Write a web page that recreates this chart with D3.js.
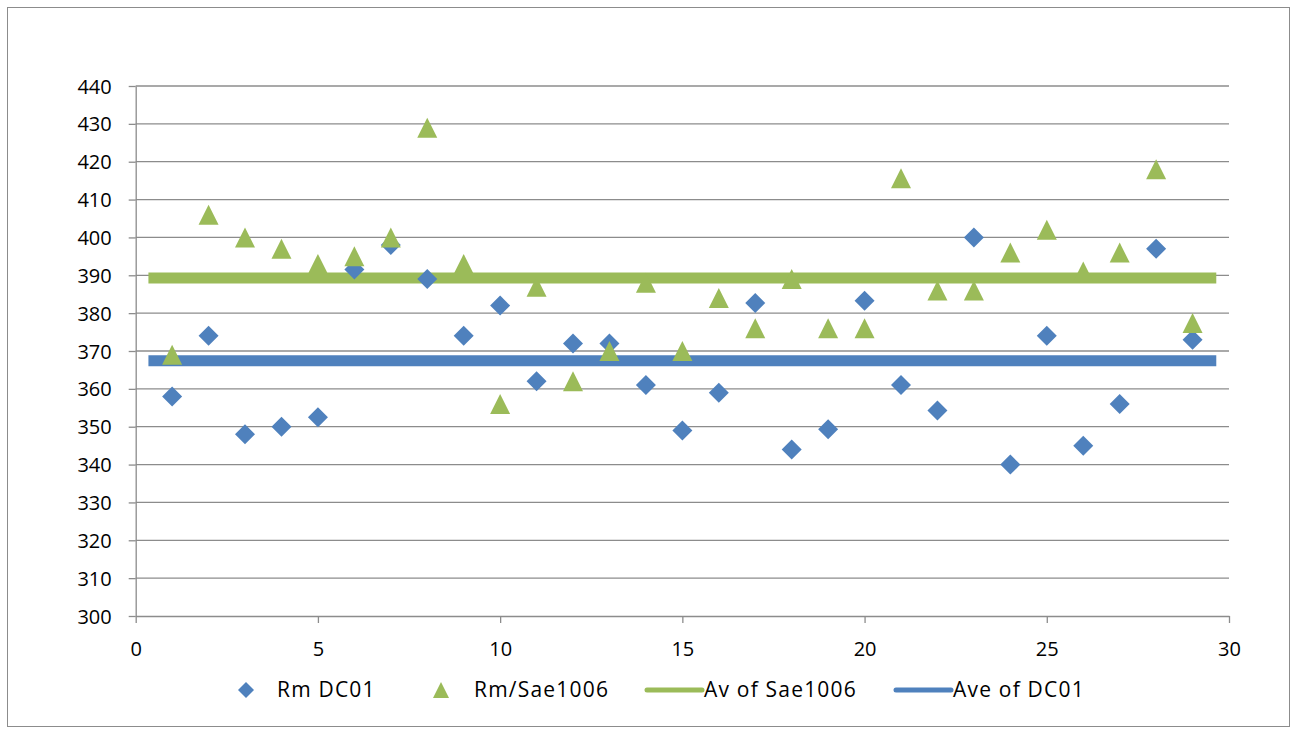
<!DOCTYPE html>
<html>
<head>
<meta charset="utf-8">
<script src="https://cdn.jsdelivr.net/npm/d3@7"></script>
<style>
  html, body { margin: 0; padding: 0; background: #fff; }
  svg { display: block; }
  text { font-family: "Open Sans", "Liberation Sans", sans-serif; fill: #000; }
  .legend text { font-size: 21px; letter-spacing: 1.2px; }
</style>
</head>
<body>
<svg id="chart" width="1297" height="733"></svg>
<script>
// Sample index (1..29)
const sampleIndex = [1,2,3,4,5,6,7,8,9,10,11,12,13,14,15,16,17,18,19,20,21,22,23,24,25,26,27,28,29];

// Rm DC01 measurements
const rmDC01 = [358,374,348,350,352.5,391.5,398,389,374,382,362,372,372,361,349,359,382.7,344,349.3,383.3,361,354.3,400,340,374,345,356,397,373];

// Rm/Sae1006 measurements
const rmSae1006 = [369,406,400,397,393,395,400,429,393,356,387,362,370,388,370,384,376,389,376,376,415.6,386,386,396,402,391,396,418,377.4];

// Averages drawn as horizontal bands across the sample range
const avgSae1006 = 389.3;
const avgDC01 = 367.4;
const avgSpan = [0.5, 29.5];

// Axis ticks
const xTicks = [0,5,10,15,20,25,30];
const yTicks = [300,310,320,330,340,350,360,370,380,390,400,410,420,430,440];

const seriesNames = ["Rm DC01", "Rm/Sae1006", "Av of Sae1006", "Ave of DC01"];

const BLUE = "#4F81BD", GREEN = "#9BBB59", GRID = "#8c8c8c";
const AXIS_FONT = "20px";

const svg = d3.select("#chart");

// Outer chart frame
svg.append("rect")
  .attr("x", 7.5).attr("y", 7.5)
  .attr("width", 1282).attr("height", 719)
  .attr("fill", "#fff").attr("stroke", "#8c8c8c").attr("stroke-width", 1);

const x = d3.scaleLinear().domain([0, 30]).range([135.7, 1229]);
const y = d3.scaleLinear().domain([300, 440]).range([616, 86]);

// Horizontal gridlines
svg.append("g")
  .selectAll("line")
  .data(yTicks.filter(v => v > 300))
  .join("line")
  .attr("x1", x(0)).attr("x2", x(30))
  .attr("y1", d => y(d)).attr("y2", d => y(d))
  .attr("stroke", GRID).attr("stroke-width", 1.3);

// Y axis
const yAxis = svg.append("g")
  .attr("transform", `translate(${x(0)},0)`)
  .call(d3.axisLeft(y).tickValues(yTicks).tickSize(7).tickPadding(17).tickSizeOuter(0));
yAxis.select(".domain").attr("stroke", GRID).attr("stroke-width", 1.3);
yAxis.selectAll(".tick line").attr("stroke", GRID).attr("stroke-width", 1.3);
yAxis.selectAll(".tick text").style("font-size", AXIS_FONT).attr("dy", "0.35em");

// X axis
const xAxis = svg.append("g")
  .attr("transform", `translate(0,${y(300)})`)
  .call(d3.axisBottom(x).tickValues(xTicks).tickSize(7).tickPadding(19).tickSizeOuter(0));
xAxis.select(".domain").attr("stroke", GRID).attr("stroke-width", 1.3);
xAxis.selectAll(".tick line").attr("stroke", GRID).attr("stroke-width", 1.3);
xAxis.selectAll(".tick text").style("font-size", AXIS_FONT);

// Average bands
const avgLine = d3.line().x(d => x(d[0])).y(d => y(d[1]));
svg.append("path")
  .attr("d", avgLine(avgSpan.map(s => [s, avgSae1006])))
  .attr("fill", "none").attr("stroke", GREEN).attr("stroke-width", 11)
  .attr("stroke-linecap", "square");
svg.append("path")
  .attr("d", avgLine(avgSpan.map(s => [s, avgDC01])))
  .attr("fill", "none").attr("stroke", BLUE).attr("stroke-width", 11)
  .attr("stroke-linecap", "square");

// Marker shapes: square diamond and isosceles triangle, sized by width
const diamondType = {
  draw(ctx, size) {
    const r = Math.sqrt(size) / 2;
    ctx.moveTo(0, -r); ctx.lineTo(r, 0); ctx.lineTo(0, r); ctx.lineTo(-r, 0); ctx.closePath();
  }
};
const triangleType = {
  draw(ctx, size) {
    const r = Math.sqrt(size) / 2;
    ctx.moveTo(0, -r); ctx.lineTo(r, r); ctx.lineTo(-r, r); ctx.closePath();
  }
};

svg.append("g")
  .selectAll("path")
  .data(sampleIndex.map((s, i) => [s, rmDC01[i]]))
  .join("path")
  .attr("transform", d => `translate(${x(d[0])},${y(d[1])})`)
  .attr("d", d3.symbol(diamondType, 20 * 20))
  .attr("fill", BLUE);

svg.append("g")
  .selectAll("path")
  .data(sampleIndex.map((s, i) => [s, rmSae1006[i]]))
  .join("path")
  .attr("transform", d => `translate(${x(d[0])},${y(d[1])})`)
  .attr("d", d3.symbol(triangleType, 20 * 20))
  .attr("fill", GREEN);

// Legend
const legendY = 690;
const legend = svg.append("g").attr("class", "legend");
legend.append("path")
  .attr("transform", `translate(246,${legendY})`)
  .attr("d", d3.symbol(diamondType, 16 * 16)).attr("fill", BLUE);
legend.append("text").attr("x", 277).attr("y", legendY).attr("dy", "0.35em")
  .text(seriesNames[0]);

legend.append("path")
  .attr("transform", `translate(441,${legendY})`)
  .attr("d", d3.symbol(triangleType, 16 * 16)).attr("fill", GREEN);
legend.append("text").attr("x", 474).attr("y", legendY).attr("dy", "0.35em")
  .text(seriesNames[1]);

legend.append("line")
  .attr("x1", 647).attr("x2", 702).attr("y1", legendY).attr("y2", legendY)
  .attr("stroke", GREEN).attr("stroke-width", 5).attr("stroke-linecap", "round");
legend.append("text").attr("x", 704).attr("y", legendY).attr("dy", "0.35em")
  .text(seriesNames[2]);

legend.append("line")
  .attr("x1", 896).attr("x2", 951).attr("y1", legendY).attr("y2", legendY)
  .attr("stroke", BLUE).attr("stroke-width", 5).attr("stroke-linecap", "round");
legend.append("text").attr("x", 953).attr("y", legendY).attr("dy", "0.35em")
  .text(seriesNames[3]);
</script>
</body>
</html>
